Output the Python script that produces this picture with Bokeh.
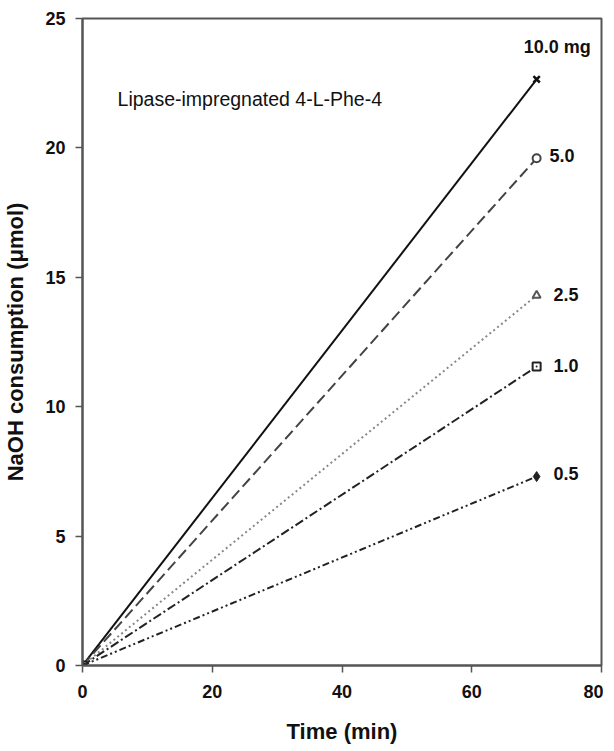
from bokeh.plotting import figure
from bokeh.models import Range1d, FixedTicker, Label
from bokeh.embed import file_html
from bokeh.resources import INLINE

# Data
doses = ["10.0 mg", "5.0", "2.5", "1.0", "0.5"]
time_min = [0, 70]
naoh_10 = [0, 22.65]
naoh_5 = [0, 19.6]
naoh_25 = [0, 14.3]
naoh_1 = [0, 11.55]
naoh_05 = [0, 7.3]
x_ticks = [0, 20, 40, 60, 80]
y_ticks = [0, 5, 10, 15, 20, 25]

series = [
    (naoh_10, "solid", "#111111", "#111111", "x", 2.0),
    (naoh_5, "11 5", "#444444", "#444444", "circle", 2.0),
    (naoh_25, "2 3", "#888888", "#555555", "triangle", 2.0),
    (naoh_1, "9 3 2 3", "#222222", "#222222", "square_dot", 2.0),
    (naoh_05, "7 3 2 3 2 3", "#222222", "#222222", "diamond", 2.0),
]
label_pos = [(68.0, 23.9), (72.0, 19.7), (72.6, 14.35), (72.6, 11.6), (72.6, 7.4)]

FONT = "Liberation Sans"

p = figure(width=603, height=748, output_backend="svg", toolbar_location=None,
           x_range=Range1d(0, 80), y_range=Range1d(0, 25),
           min_border_left=73, min_border_right=2, min_border_top=18, min_border_bottom=83)
p.background_fill_color = "white"
p.border_fill_color = "white"
p.grid.visible = False
p.outline_line_color = "#555555"
p.outline_line_width = 2

for ax, ticks in ((p.xaxis, x_ticks), (p.yaxis, y_ticks)):
    ax.ticker = FixedTicker(ticks=ticks)
    ax.minor_tick_line_color = None
    ax.major_tick_in = 0
    ax.major_tick_out = 7
    ax.axis_line_color = "#555555"
    ax.axis_line_width = 2
    ax.major_tick_line_color = "#555555"
    ax.major_tick_line_width = 1.5
    ax.major_label_text_font = FONT
    ax.major_label_text_font_style = "bold"
    ax.major_label_text_font_size = "18px"
    ax.major_label_text_color = "#111111"
    ax.axis_label_text_font = FONT
    ax.axis_label_text_font_style = "bold"
    ax.axis_label_text_color = "#111111"

p.xaxis.axis_label_text_font_size = "22px"
p.yaxis.axis_label_text_font_size = "22px"
p.xaxis.major_label_standoff = 12
p.yaxis.major_label_standoff = 10
p.xaxis.axis_label = "Time (min)"
p.yaxis.axis_label = "NaOH consumption (\u03bcmol)"
p.xaxis.axis_label_standoff = 18
p.yaxis.axis_label_standoff = 14

for (ys, dash, lc, mc, marker, lw), name, (lx, ly) in zip(series, doses, label_pos):
    p.line(time_min, ys, line_color=lc, line_dash=dash, line_width=lw)
    if marker == "diamond":
        p.scatter(time_min, ys, marker=marker, size=10, fill_color=mc, line_color=mc)
    elif marker == "x":
        p.scatter(time_min, ys, marker=marker, size=9, line_color=mc, line_width=2.5)
    else:
        p.scatter(time_min, ys, marker=marker, size=8, fill_color="white", line_color=mc, line_width=2)
    p.add_layout(Label(x=lx, y=ly, text=name, text_font=FONT, text_font_style="bold",
                       text_font_size="18px", text_color="#111111",
                       text_baseline="middle", text_align="left"))

p.add_layout(Label(x=5.4, y=21.9, text="Lipase-impregnated 4-L-Phe-4", text_font=FONT,
                   text_font_size="19.5px", text_color="#111111",
                   text_baseline="middle", text_align="left"))

open("out.html", "w").write(file_html(p, INLINE))
